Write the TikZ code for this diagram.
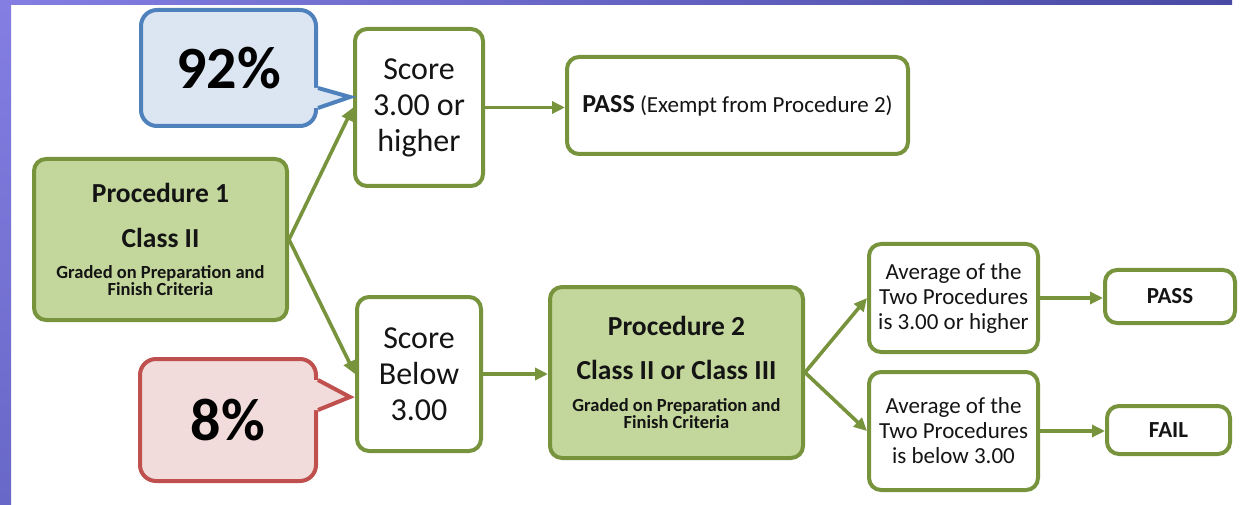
\documentclass[tikz,border=0pt]{standalone}
\usepackage{fontspec}
\setmainfont{Carlito}
\usetikzlibrary{arrows.meta, positioning}
\definecolor{boxgreen}{HTML}{77933C}
\definecolor{procfill}{HTML}{C3D69B}
\definecolor{callblue}{HTML}{4F81BD}
\definecolor{callbluefill}{HTML}{DCE6F2}
\definecolor{callred}{HTML}{C0504D}
\definecolor{callredfill}{HTML}{F2DCDB}
\definecolor{inktext}{HTML}{141414}
\definecolor{framelt}{RGB}{132,126,226}
\definecolor{framedk}{RGB}{72,74,164}
\definecolor{framebot}{RGB}{104,104,200}
\newcommand{\headfont}{\fontsize{27.5}{30}\selectfont\bfseries}
\newcommand{\notefont}{\fontsize{18.5}{19}\selectfont\bfseries}
\newcommand{\scorefont}{\fontsize{32}{36}\selectfont}
\newcommand{\avgfont}{\fontsize{23}{25}\selectfont}
\tikzset{
  stepbox/.style={rectangle, rounded corners=12pt, draw=boxgreen, line width=4pt, fill=white, align=center, text=inktext, inner sep=2pt},
  procbox/.style={stepbox, fill=procfill},
  callbox/.style={rectangle, rounded corners=16pt, line width=4pt, align=center, text=black, font=\fontsize{60}{64}\selectfont\bfseries},
  flowarr/.style={draw=boxgreen, line width=3.6pt, -{Triangle[length=13pt, width=12pt]}},
}
\begin{document}
\begin{tikzpicture}[x=1pt, y=-1pt]
\useasboundingbox (0,0) rectangle (1240,505);
% frame
\shade[left color=framelt, right color=framedk] (0,0) rectangle (1232,5);
\shade[top color=framelt, bottom color=framebot] (0,0) rectangle (11,505);

% first procedure and its outcomes
\node[procbox, minimum width=253pt, minimum height=161pt] (proc1) at (160.5,239.5)
  {\headfont Procedure 1\\[25pt] \headfont Class II\\[17pt] \notefont Graded on Preparation and\\ \notefont Finish Criteria};
\node[stepbox, minimum width=128pt, minimum height=157pt, font=\scorefont] (hi) at (419,107.5) {Score\\3.00 or\\higher};
\node[stepbox, minimum width=124pt, minimum height=154pt, font=\scorefont] (lo) at (419,374) {Score\\Below\\3.00};
\node[stepbox, minimum width=341pt, minimum height=97pt] (pass1) at (737.5,105.5)
  {{\fontsize{26}{28}\selectfont\bfseries PASS}\fontsize{23}{28}\selectfont\ (Exempt from Procedure 2)};

% second procedure
\node[procbox, minimum width=253pt, minimum height=171pt] (proc2) at (676.5,372.5)
  {\headfont Procedure 2\\[24pt] \headfont Class II or Class III\\[18pt] \notefont Graded on Preparation and\\ \notefont Finish Criteria};
\node[stepbox, minimum width=169pt, minimum height=108pt, font=\avgfont] (avghi) at (953.5,298) {Average of the\\Two Procedures\\is 3.00 or higher};
\node[stepbox, minimum width=169pt, minimum height=118pt, font=\avgfont] (avglo) at (953.5,431) {Average of the\\Two Procedures\\is below 3.00};
\node[stepbox, minimum width=130pt, minimum height=53pt, font=\fontsize{23}{25}\selectfont\bfseries] (passb) at (1170,296.5) {PASS};
\node[stepbox, minimum width=123pt, minimum height=48pt, font=\fontsize{23}{25}\selectfont\bfseries] (failb) at (1168.5,430) {FAIL};

% callouts
\node[callbox, draw=callblue, fill=callbluefill, minimum width=175pt, minimum height=116pt] (pct92) at (228.5,68) {92\%};
\fill[callbluefill] ([xshift=-6pt, yshift=-20pt]pct92.east) -- ([yshift=-20pt]pct92.east) -- ([xshift=32pt, yshift=-29pt]pct92.east) -- ([yshift=-40pt]pct92.east) -- ([xshift=-6pt, yshift=-40pt]pct92.east) -- cycle;
\draw[callblue, line width=4pt] ([yshift=-20pt]pct92.east) -- ([xshift=32pt, yshift=-29pt]pct92.east) -- ([yshift=-40pt]pct92.east);
\node[callbox, draw=callred, fill=callredfill, minimum width=176pt, minimum height=122pt] (pct8) at (228,420) {8\%};
\fill[callredfill] ([xshift=-6pt, yshift=40pt]pct8.east) -- ([yshift=40pt]pct8.east) -- ([xshift=32pt, yshift=23pt]pct8.east) -- ([yshift=10pt]pct8.east) -- ([xshift=-6pt, yshift=10pt]pct8.east) -- cycle;
\draw[callred, line width=4pt] ([yshift=40pt]pct8.east) -- ([xshift=32pt, yshift=23pt]pct8.east) -- ([yshift=10pt]pct8.east);

\draw[flowarr] (proc1.east) -- (hi.west); \draw[flowarr] (proc1.east) -- (lo.west);
\draw[flowarr] (hi.east) -- (hi.east -| pass1.west); \draw[flowarr] (lo.east) -- (lo.east -| proc2.west);
\draw[flowarr] (proc2.east) -- (avghi.west); \draw[flowarr] (proc2.east) -- (avglo.west);
\draw[flowarr] (avghi.east) -- (avghi.east -| passb.west); \draw[flowarr] (avglo.east) -- (avglo.east -| failb.west);
\end{tikzpicture}
\end{document}
